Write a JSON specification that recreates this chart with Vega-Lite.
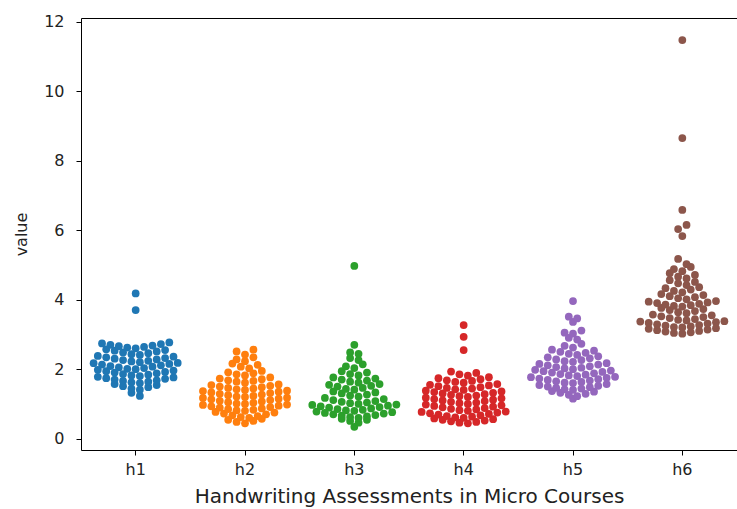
{
  "$schema": "https://vega.github.io/schema/vega-lite/v6.json",
  "width": 656,
  "height": 432,
  "autosize": {"type": "none"},
  "padding": {"left": 81, "top": 18, "right": 0, "bottom": 59},
  "background": "white",
  "config": {
    "font": "DejaVu Sans",
    "view": {"stroke": "black", "strokeWidth": 1},
    "axis": {
      "domainColor": "black",
      "tickColor": "black",
      "labelColor": "#222222",
      "titleColor": "#222222",
      "labelFont": "DejaVu Sans",
      "titleFont": "DejaVu Sans",
      "labelFontSize": 16,
      "titleFontSize": 16,
      "titleFontWeight": "normal",
      "grid": false,
      "tickSize": 5
    }
  },
  "data": {
    "values": [
      {"group": "h1", "value": 1.33}, {"group": "h1", "value": 1.24},
      {"group": "h1", "value": 1.58}, {"group": "h1", "value": 1.52}, {"group": "h1", "value": 1.45}, {"group": "h1", "value": 1.42}, {"group": "h1", "value": 1.49}, {"group": "h1", "value": 1.55},
      {"group": "h1", "value": 1.79}, {"group": "h1", "value": 1.75}, {"group": "h1", "value": 1.71}, {"group": "h1", "value": 1.67}, {"group": "h1", "value": 1.63}, {"group": "h1", "value": 1.61}, {"group": "h1", "value": 1.65}, {"group": "h1", "value": 1.69}, {"group": "h1", "value": 1.73}, {"group": "h1", "value": 1.77},
      {"group": "h1", "value": 1.99}, {"group": "h1", "value": 1.95}, {"group": "h1", "value": 1.91}, {"group": "h1", "value": 1.87}, {"group": "h1", "value": 1.83}, {"group": "h1", "value": 1.81}, {"group": "h1", "value": 1.85}, {"group": "h1", "value": 1.89}, {"group": "h1", "value": 1.93}, {"group": "h1", "value": 1.97},
      {"group": "h1", "value": 2.18}, {"group": "h1", "value": 2.14}, {"group": "h1", "value": 2.10}, {"group": "h1", "value": 2.06}, {"group": "h1", "value": 2.02}, {"group": "h1", "value": 2.01}, {"group": "h1", "value": 2.04}, {"group": "h1", "value": 2.08}, {"group": "h1", "value": 2.12}, {"group": "h1", "value": 2.16}, {"group": "h1", "value": 2.19},
      {"group": "h1", "value": 2.39}, {"group": "h1", "value": 2.35}, {"group": "h1", "value": 2.31}, {"group": "h1", "value": 2.27}, {"group": "h1", "value": 2.23}, {"group": "h1", "value": 2.21}, {"group": "h1", "value": 2.25}, {"group": "h1", "value": 2.29}, {"group": "h1", "value": 2.33}, {"group": "h1", "value": 2.37},
      {"group": "h1", "value": 2.58}, {"group": "h1", "value": 2.54}, {"group": "h1", "value": 2.49}, {"group": "h1", "value": 2.44}, {"group": "h1", "value": 2.42}, {"group": "h1", "value": 2.47}, {"group": "h1", "value": 2.52}, {"group": "h1", "value": 2.56},
      {"group": "h1", "value": 2.75}, {"group": "h1", "value": 2.71}, {"group": "h1", "value": 2.67}, {"group": "h1", "value": 2.63}, {"group": "h1", "value": 2.61}, {"group": "h1", "value": 2.65}, {"group": "h1", "value": 2.69}, {"group": "h1", "value": 2.73}, {"group": "h1", "value": 2.78},
      {"group": "h1", "value": 3.71}, {"group": "h1", "value": 4.19},

      {"group": "h2", "value": 0.55}, {"group": "h2", "value": 0.49}, {"group": "h2", "value": 0.45}, {"group": "h2", "value": 0.52}, {"group": "h2", "value": 0.58},
      {"group": "h2", "value": 0.78}, {"group": "h2", "value": 0.73}, {"group": "h2", "value": 0.68}, {"group": "h2", "value": 0.63}, {"group": "h2", "value": 0.61}, {"group": "h2", "value": 0.66}, {"group": "h2", "value": 0.71}, {"group": "h2", "value": 0.76},
      {"group": "h2", "value": 0.98}, {"group": "h2", "value": 0.94}, {"group": "h2", "value": 0.90}, {"group": "h2", "value": 0.86}, {"group": "h2", "value": 0.82}, {"group": "h2", "value": 0.81}, {"group": "h2", "value": 0.84}, {"group": "h2", "value": 0.88}, {"group": "h2", "value": 0.92}, {"group": "h2", "value": 0.96}, {"group": "h2", "value": 0.99},
      {"group": "h2", "value": 1.18}, {"group": "h2", "value": 1.14}, {"group": "h2", "value": 1.10}, {"group": "h2", "value": 1.06}, {"group": "h2", "value": 1.02}, {"group": "h2", "value": 1.01}, {"group": "h2", "value": 1.04}, {"group": "h2", "value": 1.08}, {"group": "h2", "value": 1.12}, {"group": "h2", "value": 1.16}, {"group": "h2", "value": 1.19},
      {"group": "h2", "value": 1.38}, {"group": "h2", "value": 1.34}, {"group": "h2", "value": 1.30}, {"group": "h2", "value": 1.26}, {"group": "h2", "value": 1.22}, {"group": "h2", "value": 1.21}, {"group": "h2", "value": 1.24}, {"group": "h2", "value": 1.28}, {"group": "h2", "value": 1.32}, {"group": "h2", "value": 1.36}, {"group": "h2", "value": 1.39},
      {"group": "h2", "value": 1.55}, {"group": "h2", "value": 1.51}, {"group": "h2", "value": 1.47}, {"group": "h2", "value": 1.43}, {"group": "h2", "value": 1.41}, {"group": "h2", "value": 1.45}, {"group": "h2", "value": 1.49}, {"group": "h2", "value": 1.53}, {"group": "h2", "value": 1.57},
      {"group": "h2", "value": 1.74}, {"group": "h2", "value": 1.69}, {"group": "h2", "value": 1.65}, {"group": "h2", "value": 1.62}, {"group": "h2", "value": 1.67}, {"group": "h2", "value": 1.72}, {"group": "h2", "value": 1.77},
      {"group": "h2", "value": 1.92}, {"group": "h2", "value": 1.86}, {"group": "h2", "value": 1.83}, {"group": "h2", "value": 1.89}, {"group": "h2", "value": 1.96},
      {"group": "h2", "value": 2.17}, {"group": "h2", "value": 2.08}, {"group": "h2", "value": 2.03}, {"group": "h2", "value": 2.13},
      {"group": "h2", "value": 2.29}, {"group": "h2", "value": 2.24}, {"group": "h2", "value": 2.35},
      {"group": "h2", "value": 2.52}, {"group": "h2", "value": 2.43}, {"group": "h2", "value": 2.57},

      {"group": "h3", "value": 0.35},
      {"group": "h3", "value": 0.58}, {"group": "h3", "value": 0.52}, {"group": "h3", "value": 0.47}, {"group": "h3", "value": 0.55},
      {"group": "h3", "value": 0.79}, {"group": "h3", "value": 0.75}, {"group": "h3", "value": 0.71}, {"group": "h3", "value": 0.67}, {"group": "h3", "value": 0.63}, {"group": "h3", "value": 0.61}, {"group": "h3", "value": 0.65}, {"group": "h3", "value": 0.69}, {"group": "h3", "value": 0.73}, {"group": "h3", "value": 0.77},
      {"group": "h3", "value": 0.98}, {"group": "h3", "value": 0.94}, {"group": "h3", "value": 0.90}, {"group": "h3", "value": 0.86}, {"group": "h3", "value": 0.82}, {"group": "h3", "value": 0.81}, {"group": "h3", "value": 0.84}, {"group": "h3", "value": 0.88}, {"group": "h3", "value": 0.92}, {"group": "h3", "value": 0.96}, {"group": "h3", "value": 0.99},
      {"group": "h3", "value": 1.18}, {"group": "h3", "value": 1.12}, {"group": "h3", "value": 1.07}, {"group": "h3", "value": 1.03}, {"group": "h3", "value": 1.01}, {"group": "h3", "value": 1.05}, {"group": "h3", "value": 1.09}, {"group": "h3", "value": 1.15},
      {"group": "h3", "value": 1.37}, {"group": "h3", "value": 1.31}, {"group": "h3", "value": 1.25}, {"group": "h3", "value": 1.22}, {"group": "h3", "value": 1.28}, {"group": "h3", "value": 1.34},
      {"group": "h3", "value": 1.56}, {"group": "h3", "value": 1.51}, {"group": "h3", "value": 1.44}, {"group": "h3", "value": 1.42}, {"group": "h3", "value": 1.47}, {"group": "h3", "value": 1.53}, {"group": "h3", "value": 1.58},
      {"group": "h3", "value": 1.77}, {"group": "h3", "value": 1.71}, {"group": "h3", "value": 1.65}, {"group": "h3", "value": 1.62}, {"group": "h3", "value": 1.68}, {"group": "h3", "value": 1.74},
      {"group": "h3", "value": 1.95}, {"group": "h3", "value": 1.87}, {"group": "h3", "value": 1.83}, {"group": "h3", "value": 1.91},
      {"group": "h3", "value": 2.09}, {"group": "h3", "value": 2.04}, {"group": "h3", "value": 2.15},
      {"group": "h3", "value": 2.33}, {"group": "h3", "value": 2.27},
      {"group": "h3", "value": 2.49}, {"group": "h3", "value": 2.45},
      {"group": "h3", "value": 2.71},
      {"group": "h3", "value": 4.98},

      {"group": "h4", "value": 0.59}, {"group": "h4", "value": 0.55}, {"group": "h4", "value": 0.51}, {"group": "h4", "value": 0.47}, {"group": "h4", "value": 0.45}, {"group": "h4", "value": 0.49}, {"group": "h4", "value": 0.53}, {"group": "h4", "value": 0.57},
      {"group": "h4", "value": 0.78}, {"group": "h4", "value": 0.74}, {"group": "h4", "value": 0.70}, {"group": "h4", "value": 0.66}, {"group": "h4", "value": 0.62}, {"group": "h4", "value": 0.61}, {"group": "h4", "value": 0.64}, {"group": "h4", "value": 0.68}, {"group": "h4", "value": 0.72}, {"group": "h4", "value": 0.76}, {"group": "h4", "value": 0.79},
      {"group": "h4", "value": 0.99}, {"group": "h4", "value": 0.95}, {"group": "h4", "value": 0.91}, {"group": "h4", "value": 0.87}, {"group": "h4", "value": 0.83}, {"group": "h4", "value": 0.81}, {"group": "h4", "value": 0.85}, {"group": "h4", "value": 0.89}, {"group": "h4", "value": 0.93}, {"group": "h4", "value": 0.97},
      {"group": "h4", "value": 1.19}, {"group": "h4", "value": 1.15}, {"group": "h4", "value": 1.11}, {"group": "h4", "value": 1.07}, {"group": "h4", "value": 1.03}, {"group": "h4", "value": 1.01}, {"group": "h4", "value": 1.05}, {"group": "h4", "value": 1.09}, {"group": "h4", "value": 1.13}, {"group": "h4", "value": 1.17},
      {"group": "h4", "value": 1.39}, {"group": "h4", "value": 1.35}, {"group": "h4", "value": 1.31}, {"group": "h4", "value": 1.27}, {"group": "h4", "value": 1.23}, {"group": "h4", "value": 1.21}, {"group": "h4", "value": 1.25}, {"group": "h4", "value": 1.29}, {"group": "h4", "value": 1.33}, {"group": "h4", "value": 1.37},
      {"group": "h4", "value": 1.56}, {"group": "h4", "value": 1.52}, {"group": "h4", "value": 1.47}, {"group": "h4", "value": 1.43}, {"group": "h4", "value": 1.41}, {"group": "h4", "value": 1.45}, {"group": "h4", "value": 1.49}, {"group": "h4", "value": 1.54}, {"group": "h4", "value": 1.58},
      {"group": "h4", "value": 1.75}, {"group": "h4", "value": 1.69}, {"group": "h4", "value": 1.64}, {"group": "h4", "value": 1.62}, {"group": "h4", "value": 1.67}, {"group": "h4", "value": 1.72}, {"group": "h4", "value": 1.78},
      {"group": "h4", "value": 1.94}, {"group": "h4", "value": 1.86}, {"group": "h4", "value": 1.82}, {"group": "h4", "value": 1.9},
      {"group": "h4", "value": 2.56}, {"group": "h4", "value": 2.94}, {"group": "h4", "value": 3.28},

      {"group": "h5", "value": 1.16},
      {"group": "h5", "value": 1.38}, {"group": "h5", "value": 1.33}, {"group": "h5", "value": 1.27}, {"group": "h5", "value": 1.23}, {"group": "h5", "value": 1.3}, {"group": "h5", "value": 1.36},
      {"group": "h5", "value": 1.55}, {"group": "h5", "value": 1.51}, {"group": "h5", "value": 1.47}, {"group": "h5", "value": 1.43}, {"group": "h5", "value": 1.41}, {"group": "h5", "value": 1.45}, {"group": "h5", "value": 1.49}, {"group": "h5", "value": 1.53}, {"group": "h5", "value": 1.58},
      {"group": "h5", "value": 1.78}, {"group": "h5", "value": 1.74}, {"group": "h5", "value": 1.70}, {"group": "h5", "value": 1.66}, {"group": "h5", "value": 1.62}, {"group": "h5", "value": 1.61}, {"group": "h5", "value": 1.64}, {"group": "h5", "value": 1.68}, {"group": "h5", "value": 1.72}, {"group": "h5", "value": 1.76}, {"group": "h5", "value": 1.79},
      {"group": "h5", "value": 1.99}, {"group": "h5", "value": 1.95}, {"group": "h5", "value": 1.91}, {"group": "h5", "value": 1.87}, {"group": "h5", "value": 1.83}, {"group": "h5", "value": 1.81}, {"group": "h5", "value": 1.85}, {"group": "h5", "value": 1.89}, {"group": "h5", "value": 1.93}, {"group": "h5", "value": 1.97},
      {"group": "h5", "value": 2.16}, {"group": "h5", "value": 2.12}, {"group": "h5", "value": 2.07}, {"group": "h5", "value": 2.03}, {"group": "h5", "value": 2.01}, {"group": "h5", "value": 2.05}, {"group": "h5", "value": 2.09}, {"group": "h5", "value": 2.14}, {"group": "h5", "value": 2.18},
      {"group": "h5", "value": 2.35}, {"group": "h5", "value": 2.29}, {"group": "h5", "value": 2.24}, {"group": "h5", "value": 2.22}, {"group": "h5", "value": 2.27}, {"group": "h5", "value": 2.32}, {"group": "h5", "value": 2.38},
      {"group": "h5", "value": 2.57}, {"group": "h5", "value": 2.51}, {"group": "h5", "value": 2.45}, {"group": "h5", "value": 2.42}, {"group": "h5", "value": 2.48}, {"group": "h5", "value": 2.54},
      {"group": "h5", "value": 2.68}, {"group": "h5", "value": 2.63}, {"group": "h5", "value": 2.74},
      {"group": "h5", "value": 2.91}, {"group": "h5", "value": 2.86},
      {"group": "h5", "value": 3.06}, {"group": "h5", "value": 3.03}, {"group": "h5", "value": 3.12},
      {"group": "h5", "value": 3.37},
      {"group": "h5", "value": 3.52}, {"group": "h5", "value": 3.47},
      {"group": "h5", "value": 3.97},

      {"group": "h6", "value": 3.17}, {"group": "h6", "value": 3.13}, {"group": "h6", "value": 3.09}, {"group": "h6", "value": 3.05}, {"group": "h6", "value": 3.03}, {"group": "h6", "value": 3.07}, {"group": "h6", "value": 3.11}, {"group": "h6", "value": 3.15}, {"group": "h6", "value": 3.19},
      {"group": "h6", "value": 3.38}, {"group": "h6", "value": 3.34}, {"group": "h6", "value": 3.30}, {"group": "h6", "value": 3.26}, {"group": "h6", "value": 3.22}, {"group": "h6", "value": 3.21}, {"group": "h6", "value": 3.24}, {"group": "h6", "value": 3.28}, {"group": "h6", "value": 3.32}, {"group": "h6", "value": 3.36}, {"group": "h6", "value": 3.39},
      {"group": "h6", "value": 3.58}, {"group": "h6", "value": 3.53}, {"group": "h6", "value": 3.48}, {"group": "h6", "value": 3.43}, {"group": "h6", "value": 3.41}, {"group": "h6", "value": 3.45}, {"group": "h6", "value": 3.51}, {"group": "h6", "value": 3.56},
      {"group": "h6", "value": 3.77}, {"group": "h6", "value": 3.71}, {"group": "h6", "value": 3.65}, {"group": "h6", "value": 3.62}, {"group": "h6", "value": 3.68}, {"group": "h6", "value": 3.74},
      {"group": "h6", "value": 3.95}, {"group": "h6", "value": 3.91}, {"group": "h6", "value": 3.87}, {"group": "h6", "value": 3.83}, {"group": "h6", "value": 3.81}, {"group": "h6", "value": 3.85}, {"group": "h6", "value": 3.89}, {"group": "h6", "value": 3.93}, {"group": "h6", "value": 3.97},
      {"group": "h6", "value": 4.17}, {"group": "h6", "value": 4.11}, {"group": "h6", "value": 4.05}, {"group": "h6", "value": 4.02}, {"group": "h6", "value": 4.08}, {"group": "h6", "value": 4.14},
      {"group": "h6", "value": 4.34}, {"group": "h6", "value": 4.26}, {"group": "h6", "value": 4.22}, {"group": "h6", "value": 4.3}, {"group": "h6", "value": 4.37},
      {"group": "h6", "value": 4.57}, {"group": "h6", "value": 4.48}, {"group": "h6", "value": 4.43}, {"group": "h6", "value": 4.52},
      {"group": "h6", "value": 4.77}, {"group": "h6", "value": 4.67}, {"group": "h6", "value": 4.62}, {"group": "h6", "value": 4.72},
      {"group": "h6", "value": 4.89}, {"group": "h6", "value": 4.83}, {"group": "h6", "value": 4.95},
      {"group": "h6", "value": 5.18}, {"group": "h6", "value": 5.03},
      {"group": "h6", "value": 5.84}, {"group": "h6", "value": 6.04}, {"group": "h6", "value": 6.16}, {"group": "h6", "value": 6.59}, {"group": "h6", "value": 8.66}, {"group": "h6", "value": 11.48}
    ]
  },
  "transform": [
    {"window": [{"op": "row_number", "as": "idx"}]},
    {"bin": {"step": 0.2, "extent": [0, 12]}, "field": "value", "as": "vbin"},
    {"window": [{"op": "count", "as": "one"}], "frame": [0, 0]},
    {"stack": "one", "groupby": ["group", "vbin"], "offset": "center", "sort": [{"field": "idx", "order": "ascending"}], "as": ["s0", "s1"]}
  ],
  "mark": {"type": "circle", "size": 60, "opacity": 1},
  "encoding": {
    "x": {
      "field": "group",
      "type": "nominal",
      "scale": {"paddingInner": 0, "paddingOuter": 0},
      "axis": {"title": "Handwriting Assessments in Micro Courses", "titleFontSize": 20, "labelAngle": 0, "labelPadding": 6, "titlePadding": 9, "domain": false}
    },
    "xOffset": {"field": "s0", "type": "quantitative", "scale": {"domain": [-1.5, 11.5], "range": [0, 109.33], "zero": false, "nice": false}},
    "y": {
      "field": "value",
      "type": "quantitative",
      "scale": {"domain": [-0.317, 12.115], "nice": false, "zero": false},
      "axis": {"title": "value", "values": [0, 2, 4, 6, 8, 10, 12], "labelPadding": 12, "titlePadding": 14, "domain": false}
    },
    "color": {
      "field": "group",
      "type": "nominal",
      "scale": {"domain": ["h1", "h2", "h3", "h4", "h5", "h6"], "range": ["#1f77b4", "#ff7f0e", "#2ca02c", "#d62728", "#9467bd", "#8c564b"]},
      "legend": null
    }
  }
}
